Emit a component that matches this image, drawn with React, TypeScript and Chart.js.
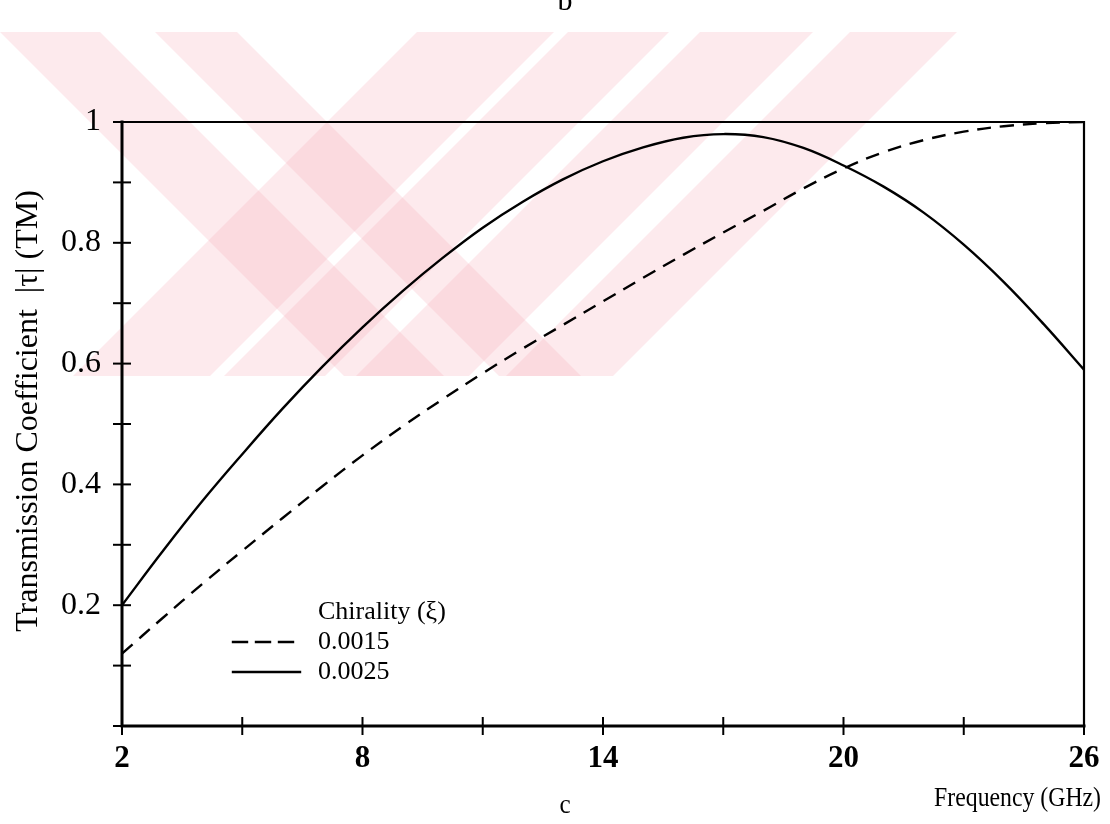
import React, { useEffect, useRef } from "react";
import { Chart, registerables } from "chart.js";

Chart.register(...registerables);

// ---- data ----
const frequencies = [2, 3, 4, 5, 6, 7, 8, 9, 10, 11, 12, 13, 14, 15, 16, 17, 18, 19, 20, 21, 22, 23, 24, 25, 26];
const chirality0015 = [0.12, 0.178, 0.235, 0.29, 0.344, 0.397, 0.448, 0.496, 0.541, 0.584, 0.625, 0.664, 0.703, 0.742, 0.78, 0.817, 0.853, 0.89, 0.923, 0.95, 0.97, 0.984, 0.993, 0.998, 1.0];
const chirality0025 = [0.2, 0.288, 0.372, 0.45, 0.525, 0.595, 0.66, 0.72, 0.775, 0.825, 0.868, 0.905, 0.935, 0.958, 0.974, 0.98, 0.975, 0.957, 0.928, 0.893, 0.85, 0.797, 0.735, 0.665, 0.59];
const seriesLabels = ["0.0015", "0.0025"];
const legendTitle = "Chirality (\u03BE)";
const yTitle = "Transmission Coefficient  |\u03C4| (TM)";
const xTitle = "Frequency (GHz)";
const xMajorTicks = [2, 8, 14, 20, 26];
const yMajorTicks = [0.2, 0.4, 0.6, 0.8, 1];
const panelAbove = "b";
const panelBelow = "c";

const SERIF = "'Liberation Serif', 'Times New Roman', serif";

// draws (optionally horizontally condensed) text
function drawText(ctx: any, text: string, x: number, y: number, font: string, align: string, sx = 1) {
  ctx.save();
  ctx.font = font;
  ctx.textAlign = align;
  ctx.textBaseline = "middle";
  ctx.translate(x, y);
  ctx.scale(sx, 1);
  ctx.fillText(text, 0, 0);
  ctx.restore();
}

const decorPlugin = {
  id: "decor",
  beforeDraw(chart: any) {
    const { ctx, width, height } = chart;
    ctx.save();
    ctx.fillStyle = "#ffffff";
    ctx.fillRect(0, 0, width, height);
    // light red watermark (scan background)
    ctx.beginPath();
    ctx.rect(0, 32, 1000, 344);
    ctx.clip();
    ctx.fillStyle = "rgba(246, 170, 185, 0.25)";
    const stripe = (x0: number, x1: number, dir: number) => {
      const h = 400;
      ctx.beginPath();
      ctx.moveTo(x0, 32);
      ctx.lineTo(x1, 32);
      ctx.lineTo(x1 + dir * h, 32 + h);
      ctx.lineTo(x0 + dir * h, 32 + h);
      ctx.closePath();
      ctx.fill();
    };
    stripe(0, 100, 1);
    stripe(155, 237, 1);
    stripe(417, 554, -1);
    stripe(568, 669, -1);
    stripe(700, 813, -1);
    stripe(850, 957, -1);
    ctx.restore();
  },
  afterDraw(chart: any) {
    const { ctx, chartArea } = chart;
    const { left, right, top, bottom } = chartArea;
    const xs = chart.scales.x;
    const ys = chart.scales.y;
    ctx.save();
    ctx.strokeStyle = "#000";
    ctx.lineCap = "square";
    // frame
    ctx.lineWidth = 2.2;
    ctx.beginPath();
    ctx.moveTo(left, top);
    ctx.lineTo(right, top);
    ctx.lineTo(right, bottom);
    ctx.stroke();
    ctx.lineWidth = 3;
    ctx.beginPath();
    ctx.moveTo(left, top);
    ctx.lineTo(left, bottom);
    ctx.lineTo(right, bottom);
    ctx.stroke();
    // crossing tick marks
    ctx.lineWidth = 2;
    xs.ticks.forEach((t: any) => {
      const px = xs.getPixelForValue(t.value);
      ctx.beginPath();
      ctx.moveTo(px, bottom - 8);
      ctx.lineTo(px, bottom + 8);
      ctx.stroke();
    });
    ys.ticks.forEach((t: any) => {
      const py = ys.getPixelForValue(t.value);
      ctx.beginPath();
      ctx.moveTo(left - 8, py);
      ctx.lineTo(left + 8, py);
      ctx.stroke();
    });

    ctx.fillStyle = "#000";
    // y title
    ctx.save();
    ctx.translate(29, 411);
    ctx.rotate(-Math.PI / 2);
    ctx.font = `32px ${SERIF}`;
    ctx.textAlign = "center";
    ctx.textBaseline = "middle";
    ctx.fillText(yTitle, 0, 0);
    ctx.restore();
    // x title
    drawText(ctx, xTitle, 1101, 799, `27px ${SERIF}`, "right", 0.88);
    // panel letters
    drawText(ctx, panelBelow, 565, 806, `28px ${SERIF}`, "center", 0.9);
    ctx.save();
    ctx.textAlign = "center";
    ctx.textBaseline = "alphabetic";
    ctx.font = `30px ${SERIF}`;
    ctx.fillText(panelAbove, 565, 10);
    ctx.restore();

    // legend
    drawText(ctx, legendTitle, 318, 612, `26px ${SERIF}`, "left");
    chart.data.datasets.forEach((ds: any, i: number) => {
      const y = 642 + i * 30;
      ctx.save();
      ctx.lineWidth = ds.borderWidth;
      ctx.setLineDash(ds.borderDash || []);
      ctx.beginPath();
      ctx.moveTo(233, y);
      ctx.lineTo(300, y);
      ctx.stroke();
      ctx.restore();
      drawText(ctx, ds.label, 318, y, `26px ${SERIF}`, "left");
    });
    ctx.restore();
  },
};

export default function App() {
  const canvasRef = useRef<HTMLCanvasElement | null>(null);

  useEffect(() => {
    document.body.style.margin = "0";
    const canvas = canvasRef.current;
    if (!canvas) return;
    const chart = new Chart(canvas, {
      type: "line",
      data: {
        datasets: [
          {
            label: seriesLabels[0],
            data: frequencies.map((f, i) => ({ x: f, y: chirality0015[i] })),
            borderColor: "#000",
            borderWidth: 2.4,
            borderDash: [14, 9],
            pointRadius: 0,
            tension: 0.4,
            fill: false,
          },
          {
            label: seriesLabels[1],
            data: frequencies.map((f, i) => ({ x: f, y: chirality0025[i] })),
            borderColor: "#000",
            borderWidth: 2.4,
            pointRadius: 0,
            tension: 0.4,
            fill: false,
          },
        ],
      },
      options: {
        responsive: false,
        animation: false,
        layout: { padding: { left: 0, right: 26, top: 122, bottom: 0 } },
        plugins: {
          legend: { display: false },
          tooltip: { enabled: false },
          title: { display: false },
        },
        scales: {
          x: {
            type: "linear",
            min: 2,
            max: 26,
            grid: { display: false, drawTicks: false },
            border: { display: false },
            afterFit: (s: any) => {
              s.height = 98;
              s.paddingLeft = 0;
              s.paddingRight = 0;
            },
            ticks: {
              stepSize: 3,
              autoSkip: false,
              maxRotation: 0,
              padding: 14,
              color: "#000",
              font: { family: SERIF, size: 31, weight: "bold" },
              callback: (v: any) => (xMajorTicks.includes(Number(v)) ? String(v) : ""),
            },
          },
          y: {
            type: "linear",
            min: 0,
            max: 1,
            grid: { display: false, drawTicks: false },
            border: { display: false },
            afterFit: (s: any) => {
              s.width = 122;
              s.paddingTop = 0;
              s.paddingBottom = 0;
            },
            ticks: {
              stepSize: 0.1,
              autoSkip: false,
              padding: 21,
              color: "#000",
              font: { family: SERIF, size: 32 },
              callback: (v: any) => {
                const r = Math.round(Number(v) * 10) / 10;
                if (!yMajorTicks.some((m) => Math.abs(m - r) < 1e-6)) return "";
                return r === 1 ? "1" : String(r);
              },
            },
          },
        },
      },
      plugins: [decorPlugin],
    } as any);
    return () => chart.destroy();
  }, []);

  return <canvas ref={canvasRef} width={1110} height={824} style={{ display: "block" }} />;
}
